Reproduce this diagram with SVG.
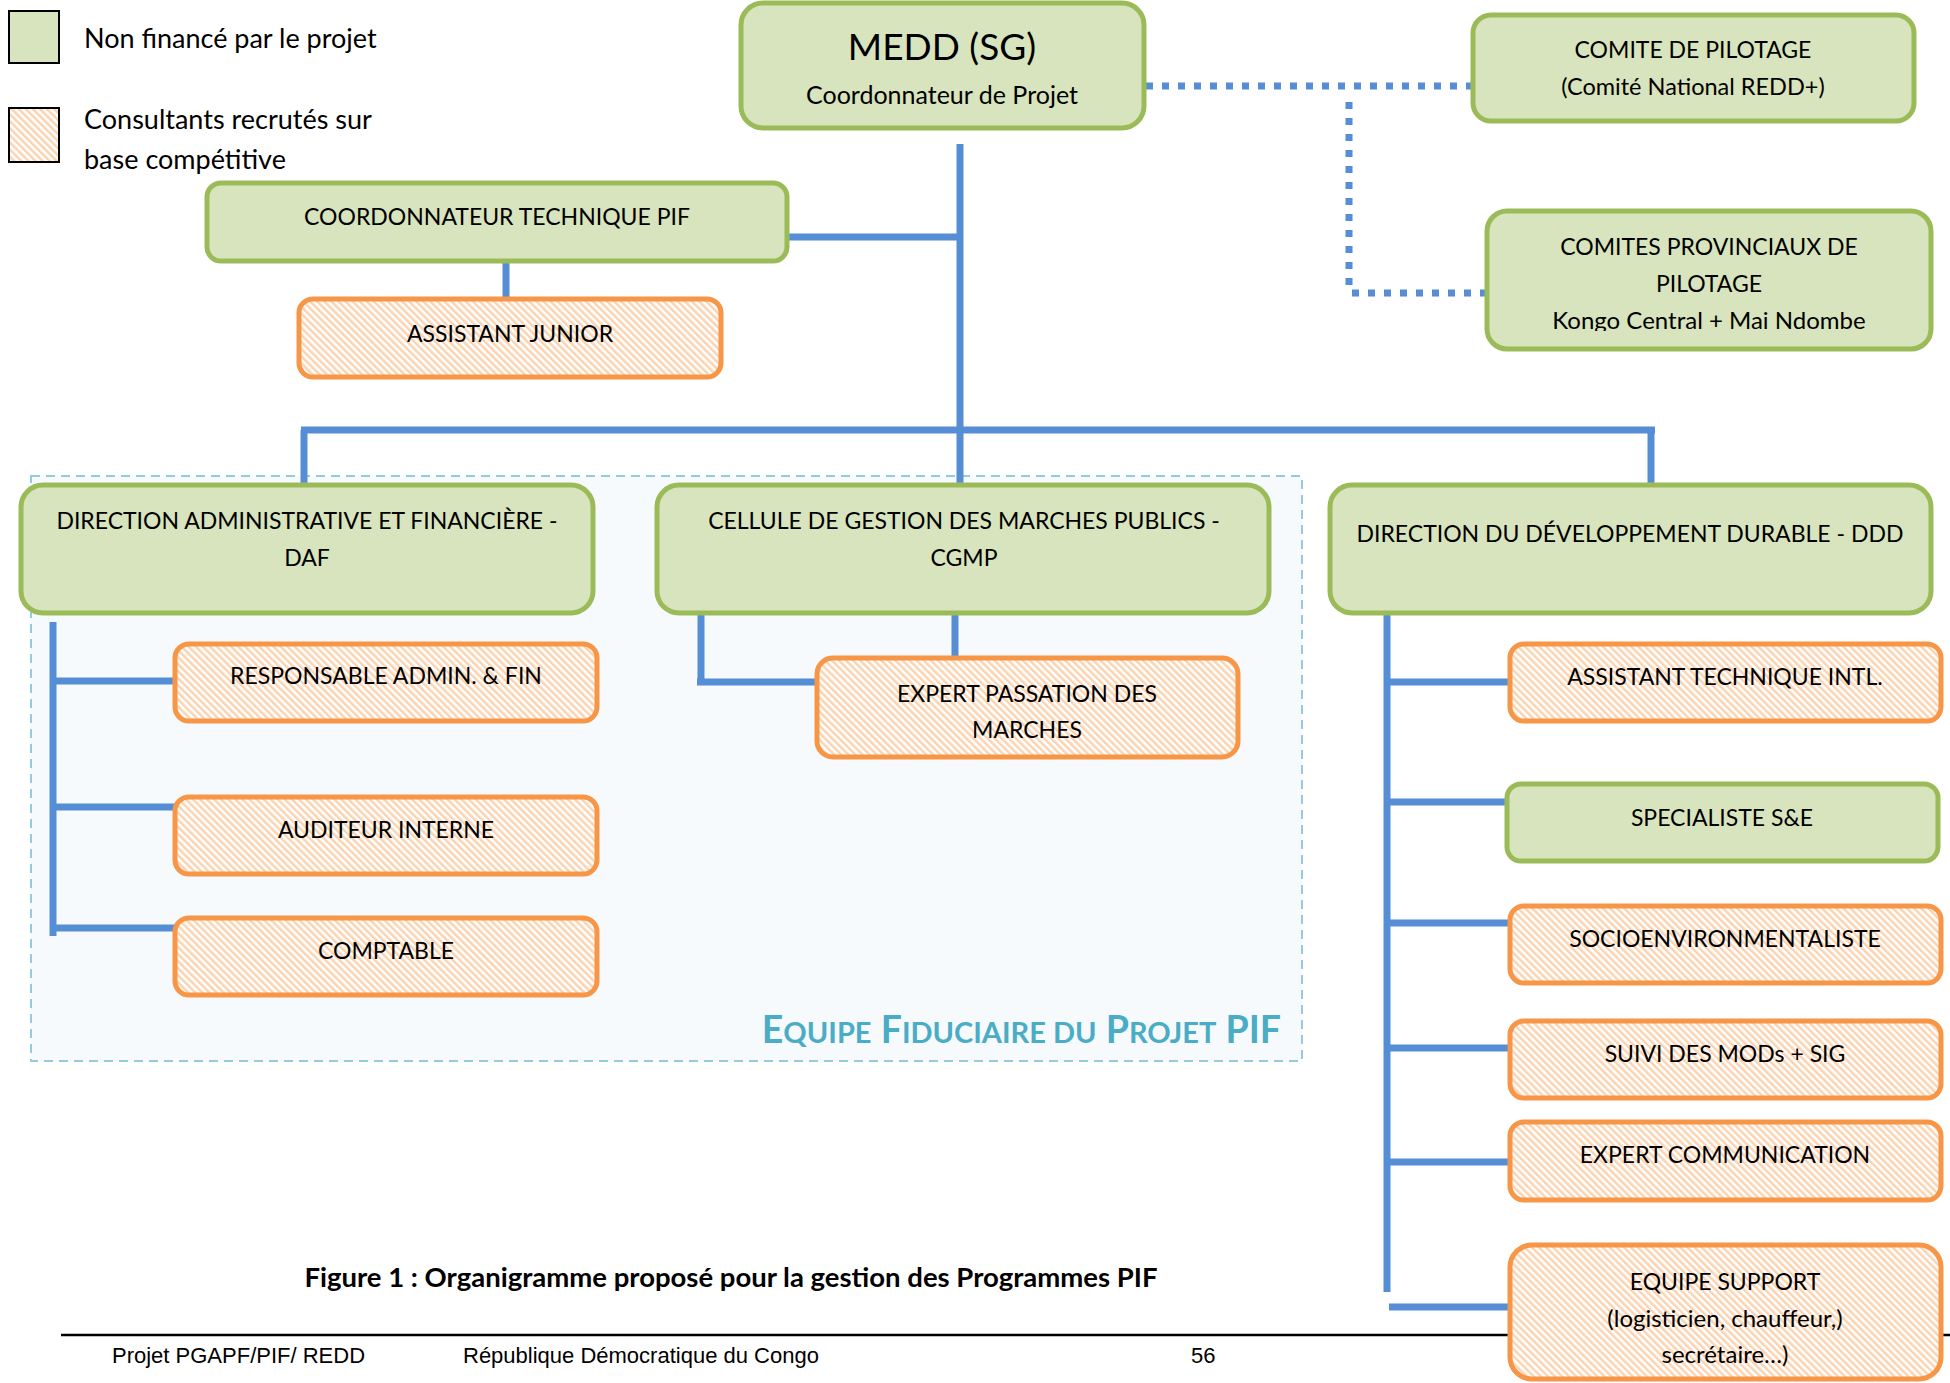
<svg xmlns="http://www.w3.org/2000/svg" width="1950" height="1383" viewBox="0 0 1950 1383">
<style>
.t{font-family:Lato,"Liberation Sans",sans-serif;font-size:23px;fill:#000;text-anchor:middle}
.lg{font-family:Lato,"Liberation Sans",sans-serif;font-size:27px;fill:#000}
.g{fill:#D7E4BD;stroke:#9BBB59;stroke-width:5}
.o{fill:url(#hatch);stroke:#F79646;stroke-width:5}
.c{stroke:#558ED5;stroke-width:7;fill:none}
.d{stroke:#558ED5;stroke-width:7;fill:none;stroke-dasharray:7 9}
.ft{font-family:"Liberation Sans",Arial,sans-serif;font-size:22px;fill:#000}
</style>
<defs>
<pattern id="hatch" patternUnits="userSpaceOnUse" width="5" height="5" patternTransform="rotate(-45)">
<rect width="5" height="5" fill="#FFFFFF"/>
<rect width="2.5" height="5" fill="#FBD3B1"/>
</pattern>
<clipPath id="clipProv"><rect x="1487" y="211" width="444" height="120"/></clipPath>
</defs>
<rect width="1950" height="1383" fill="#FFFFFF"/>

<g id="equipe-fiduciaire">
<rect x="31" y="476" width="1271" height="585" fill="#F6FAFC" stroke="#93CDDD" stroke-width="2" stroke-dasharray="9 6"/>
<text x="1281" y="1043" font-family="Lato,'Liberation Sans',sans-serif" font-weight="bold" font-size="37.5px" fill="#4BACC6" text-anchor="end">E<tspan font-size="29px">QUIPE</tspan> F<tspan font-size="29px">IDUCIAIRE DU</tspan> P<tspan font-size="29px">ROJET</tspan> PIF</text>
</g>

<g id="legend">
<rect x="9" y="11" width="50" height="52" fill="#D7E4BD" stroke="#000" stroke-width="2"/>
<text class="lg" x="84" y="48">Non financé par le projet</text>
<rect x="9" y="108" width="50" height="54" fill="url(#hatch)" stroke="#000" stroke-width="2"/>
<text class="lg" x="84" y="129">Consultants recrutés sur</text>
<text class="lg" x="84" y="169">base compétitive</text>
</g>

<line x1="61" y1="1335" x2="1950" y2="1335" stroke="#000" stroke-width="2.5"/>

<g id="connectors">
<path class="c" d="M960 144 V483"/>
<path class="c" d="M787 237 H960"/>
<path class="c" d="M506 262 V298"/>
<path class="c" d="M301 430 H1655"/>
<path class="c" d="M304 430 V484"/>
<path class="c" d="M1651 430 V498"/>
<path class="c" d="M53 622 V936"/>
<path class="c" d="M53 681 H175 M53 807 H175 M53 928 H175"/>
<path class="c" d="M701 612 V682 M697 682 H816"/>
<path class="c" d="M955 612 V657"/>
<path class="c" d="M1387 608 V1292"/>
<path class="c" d="M1387 682 H1509 M1387 802 H1506 M1387 923 H1509 M1387 1048 H1509 M1387 1162 H1509"/>
<path class="c" d="M1389 1307 H1510"/>
<path class="d" d="M1146 86 H1473"/>
<path class="d" d="M1349 102 V293"/>
<path class="d" d="M1352 293 H1487"/>
</g>

<g id="medd">
<rect class="g" x="741" y="3" width="403" height="125" rx="22"/>
<text class="t" x="942" y="60" style="font-size:37px">MEDD (SG)</text>
<text class="t" x="942" y="104" style="font-size:25px">Coordonnateur de Projet</text>
</g>
<g id="comite-pilotage">
<rect class="g" x="1473" y="15" width="441" height="106" rx="18"/>
<text class="t" x="1693" y="58">COMITE DE PILOTAGE</text>
<text class="t" x="1693" y="95" style="font-size:23.5px">(Comité National REDD+)</text>
</g>
<g id="comites-provinciaux">
<rect class="g" x="1487" y="211" width="444" height="138" rx="20"/>
<g clip-path="url(#clipProv)">
<text class="t" x="1709" y="255">COMITES PROVINCIAUX DE</text>
<text class="t" x="1709" y="292">PILOTAGE</text>
<text class="t" x="1709" y="329" style="font-size:24px">Kongo Central + Mai Ndombe</text>
</g>
</g>
<g id="coord-technique">
<rect class="g" x="207" y="183" width="580" height="78" rx="14"/>
<text class="t" x="497" y="225">COORDONNATEUR TECHNIQUE PIF</text>
</g>
<g id="assistant-junior">
<rect class="o" x="299" y="299" width="422" height="78" rx="14"/>
<text class="t" x="510" y="342">ASSISTANT JUNIOR</text>
</g>
<g id="daf">
<rect class="g" x="21" y="485" width="572" height="128" rx="22"/>
<text class="t" x="307" y="529">DIRECTION ADMINISTRATIVE ET FINANCIÈRE -</text>
<text class="t" x="307" y="566">DAF</text>
</g>
<g id="cgmp">
<rect class="g" x="657" y="485" width="612" height="128" rx="22"/>
<text class="t" x="964" y="529">CELLULE DE GESTION DES MARCHES PUBLICS -</text>
<text class="t" x="964" y="566">CGMP</text>
</g>
<g id="ddd">
<rect class="g" x="1330" y="485" width="601" height="128" rx="22"/>
<text class="t" x="1630" y="542">DIRECTION DU DÉVELOPPEMENT DURABLE - DDD</text>
</g>
<g id="responsable">
<rect class="o" x="175" y="644" width="422" height="77" rx="14"/>
<text class="t" x="386" y="684">RESPONSABLE ADMIN. &amp; FIN</text>
</g>
<g id="auditeur">
<rect class="o" x="175" y="797" width="422" height="77" rx="14"/>
<text class="t" x="386" y="838">AUDITEUR INTERNE</text>
</g>
<g id="comptable">
<rect class="o" x="175" y="918" width="422" height="77" rx="14"/>
<text class="t" x="386" y="959">COMPTABLE</text>
</g>
<g id="expert-passation">
<rect class="o" x="817" y="658" width="421" height="99" rx="16"/>
<text class="t" x="1027" y="702">EXPERT PASSATION DES</text>
<text class="t" x="1027" y="738">MARCHES</text>
</g>
<g id="assistant-technique">
<rect class="o" x="1510" y="644" width="431" height="77" rx="14"/>
<text class="t" x="1725" y="685">ASSISTANT TECHNIQUE INTL.</text>
</g>
<g id="specialiste">
<rect class="g" x="1507" y="784" width="431" height="77" rx="14"/>
<text class="t" x="1722" y="826">SPECIALISTE S&amp;E</text>
</g>
<g id="socio">
<rect class="o" x="1510" y="906" width="431" height="77" rx="14"/>
<text class="t" x="1725" y="947">SOCIOENVIRONMENTALISTE</text>
</g>
<g id="suivi">
<rect class="o" x="1510" y="1021" width="431" height="77" rx="14"/>
<text class="t" x="1725" y="1062">SUIVI DES MODs + SIG</text>
</g>
<g id="expert-comm">
<rect class="o" x="1510" y="1122" width="431" height="78" rx="14"/>
<text class="t" x="1725" y="1163">EXPERT COMMUNICATION</text>
</g>
<g id="equipe-support">
<rect class="o" x="1510" y="1245" width="431" height="134" rx="22"/>
<text class="t" x="1725" y="1290">EQUIPE SUPPORT</text>
<text class="t" x="1725" y="1327" style="font-size:24px">(logisticien, chauffeur,)</text>
<text class="t" x="1725" y="1363" style="font-size:24px">secrétaire…)</text>
</g>

<text x="731" y="1287" font-family="Lato,'Liberation Sans',sans-serif" font-weight="bold" font-size="27.5px" text-anchor="middle">Figure 1 : Organigramme proposé pour la gestion des Programmes PIF</text>
<text class="ft" x="112" y="1363">Projet PGAPF/PIF/ REDD</text>
<text class="ft" x="463" y="1363">République Démocratique du Congo</text>
<text class="ft" x="1191" y="1363">56</text>
</svg>
